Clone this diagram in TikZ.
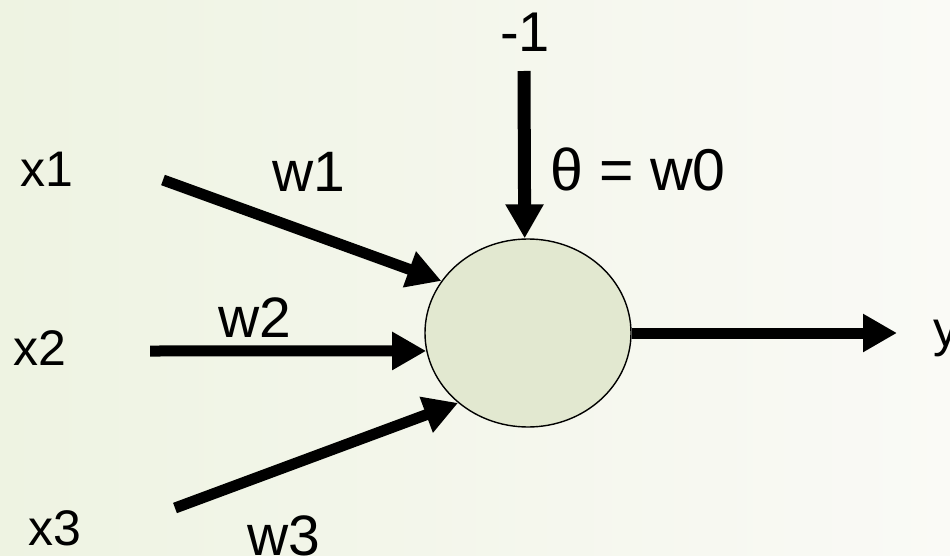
\documentclass[tikz,border=0pt]{standalone}
\usepackage{fontspec}
\setmainfont{Liberation Sans}
\usetikzlibrary{arrows.meta,shapes.geometric}
\definecolor{bgleft}{RGB}{238,243,226}
\definecolor{bgright}{RGB}{250,250,246}
\definecolor{cellfill}{RGB}{226,232,208}
\tikzset{
  lbl/.style={anchor=base, inner sep=0pt, font=\fontsize{50}{60}\selectfont},
  wlbl/.style={anchor=base, inner sep=0pt, font=\fontsize{57}{68}\selectfont},
  tlbl/.style={anchor=base, inner sep=0pt, font=\fontsize{56}{66}\selectfont},
  conn/.style={line width=11pt, -{Triangle[length=34pt,width=36pt]}},
  cell/.style={ellipse, draw=black, line width=1.4pt, fill=cellfill,
    minimum width=206pt, minimum height=188pt, inner sep=0pt}
}
\begin{document}
\begin{tikzpicture}[x=1pt,y=-1pt]
\shade[left color=bgleft, right color=bgright] (0,0) rectangle (950,556);
\useasboundingbox (0,0) rectangle (950,556);
\node[cell] (n) at (528,333) {};
\coordinate (s1) at (163,180);
\coordinate (s2) at (150,351);
\coordinate (s3) at (175,508);
\coordinate (s0) at (524,71);
\coordinate (e) at (897,333);
\draw[conn] (s1) -- (n.149);
\draw[conn] (s2) -- (n.190);
\draw[conn] (s3) -- (n.225);
\draw[conn, line width=13pt] (s0) -- (n.92);
\draw[conn] (n.0) -- (e);
\node[lbl] (x1) at (47,186) {x1};
\node[lbl] (x2) at (40,365) {x2};
\node[lbl] (x3) at (55,545) {x3};
\node[wlbl] (w1) at (309,192) {w1};
\node[wlbl] (w2) at (255,337) {w2};
\node[wlbl] (w3) at (284,555) {w3};
\node[tlbl] (m1) at (525,52) {-1};
\node[tlbl, font=\fontsize{59}{70}\selectfont] (th) at (638,190) {θ = w0};
\node[lbl, anchor=base west] (y) at (933,346) {y};
\end{tikzpicture}
\end{document}
